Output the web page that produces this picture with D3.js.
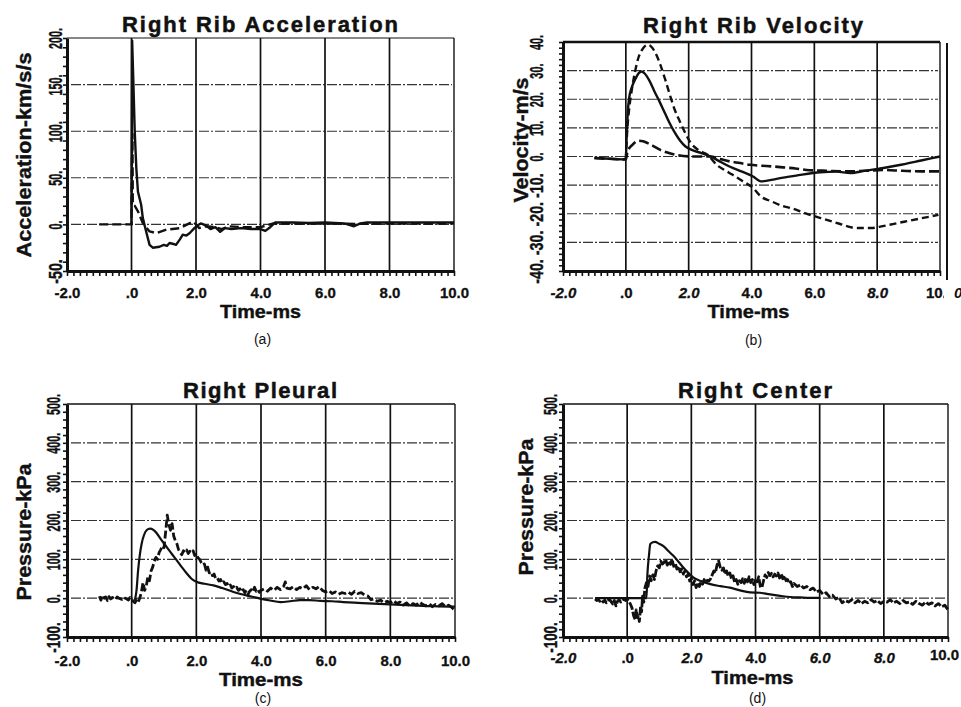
<!DOCTYPE html>
<html><head><meta charset="utf-8">
<script src="https://cdn.jsdelivr.net/npm/d3@7"></script>
<style>
body{margin:0;background:#fff;}
svg text{font-family:"Liberation Sans", Arial, sans-serif;}
</style></head><body>
<svg id="chart" width="961" height="707"></svg>
<script>
// ---------------- data ----------------
const xTickValues = [-2, 0, 2, 4, 6, 8, 10];
const xTickLabels = ["-2.0", ".0", "2.0", "4.0", "6.0", "8.0", "10.0"];
const accTicks = [-50, 0, 50, 100, 150, 200];
const accTickLabels = ["-50.", "0.", "50.", "100.", "150.", "200."];
const velTicks = [-40, -30, -20, -10, 0, 10, 20, 30, 40];
const velTickLabels = ["-40.", "-30.", "-20.", "-10.", "0.", "10.", "20.", "30.", "40."];
const presTicks = [-100, 0, 100, 200, 300, 400, 500];
const presTickLabels = ["-100.", "0.", "100.", "200.", "300.", "400.", "500."];

const titles = ["Right Rib Acceleration", "Right Rib Velocity", "Right Pleural", "Right Center"];
const yTitles = ["Acceleration-km/s/s", "Velocity-m/s", "Pressure-kPa", "Pressure-kPa"];
const captions = ["(a)", "(b)", "(c)", "(d)"];
const xTitle = "Time-ms";

// (a) acceleration [time ms, km/s/s]
const accSolid = [[0,0],[0.02,197],[0.06,150],[0.1,100],[0.15,60],[0.2,35],[0.3,21],[0.35,7],[0.45,-7],[0.56,-22],[0.66,-25],[0.87,-24],[1.0,-22],[1.1,-23],[1.18,-20],[1.3,-21],[1.38,-22],[1.5,-16],[1.59,-11],[1.7,-12],[1.8,-9.5],[1.95,-4],[2.05,-1],[2.15,1],[2.3,-1],[2.45,-5],[2.6,-3],[2.75,-8],[2.9,-4],[3.1,-5],[3.4,-4],[3.7,-5],[4.0,-5],[4.15,-7],[4.3,-3],[4.45,2],[5.0,2],[5.5,1.5],[6.0,2],[6.6,1],[6.9,-2],[7.1,1],[7.3,2],[8,2],[9,2],[10,2]];
const accDashed = [[-1,0],[0,0],[0.01,60],[0.03,97],[0.04,21],[0.1,20],[0.2,14],[0.35,1.4],[0.56,-7.5],[0.77,-9.3],[1.08,-5.7],[1.5,-4],[1.9,3],[2.0,0],[2.1,-4],[2.3,-2],[2.6,-3],[2.8,-5],[3.0,-2],[3.5,-3],[4.0,-3],[4.4,1],[5,1],[6,1],[7,0.5],[8,1],[9,1],[10,1]];

// (b) velocity [time ms, m/s]
const velSolid = [[-1,-0.5],[-0.5,-0.8],[0,-1],[0.02,5],[0.06,15],[0.1,20],[0.2,24.5],[0.3,27],[0.4,29],[0.5,29.7],[0.6,29],[0.75,26.5],[0.9,23],[1.08,19],[1.25,15],[1.4,11.5],[1.55,8.5],[1.73,5.5],[1.9,3.5],[2.1,2.3],[2.4,1.2],[2.7,0],[3.0,-1.8],[3.3,-3.5],[3.7,-5.3],[4.05,-7],[4.3,-8.7],[4.8,-7.8],[5.5,-6.5],[6.2,-5.5],[6.7,-5.3],[7.15,-5.8],[7.6,-5],[8.2,-4],[8.8,-2.8],[9.4,-1.4],[10,0]];
const velDashHigh = [[0,-1],[0.05,10],[0.1,16],[0.2,24],[0.3,30],[0.4,34.5],[0.5,37],[0.6,38.5],[0.7,39],[0.8,38.5],[0.95,36],[1.1,32],[1.25,27],[1.4,21.6],[1.55,16.5],[1.73,12],[1.9,8],[2.05,5],[2.3,2.3],[2.6,0.6],[2.9,-3],[3.15,-4.8],[3.4,-6.4],[3.7,-8.5],[4.05,-11],[4.3,-14],[4.6,-15.5],[5.0,-17.3],[5.25,-18],[5.7,-19.8],[6.2,-21.5],[6.8,-23.5],[7.2,-24.8],[7.45,-25],[7.8,-25],[8.1,-24.5],[8.5,-23.6],[8.9,-22.7],[9.4,-21.6],[9.95,-20.4]];
const velDashLow = [[-1,-0.5],[0,-1],[0.04,1],[0.08,2.3],[0.2,4],[0.4,5.5],[0.55,5.3],[0.67,4.8],[0.85,3.8],[1.1,2.3],[1.35,1.3],[1.6,0.6],[2.15,0],[2.7,0],[3.0,-0.9],[3.3,-1.7],[3.64,-2.3],[3.95,-2.9],[4.3,-3.2],[4.7,-3.5],[5.0,-3.8],[5.4,-4.2],[5.75,-4.7],[6.4,-5.0],[7.1,-5.2],[7.6,-5.0],[8.2,-4.7],[8.8,-5.0],[9.4,-5.2],[10,-5.2]];

// (c) right pleural pressure [time ms, kPa]
const pleuralSolid = [[0.1,-5],[0.15,20],[0.2,72],[0.25,110],[0.31,141],[0.38,162],[0.46,175],[0.57,179],[0.67,176],[0.77,168],[0.9,152],[1.08,132],[1.25,113],[1.39,98],[1.55,80],[1.7,64],[1.85,50],[2.0,42],[2.25,37],[2.53,33],[2.8,26],[3.15,16],[3.4,10],[3.66,5],[3.97,-1],[4.28,-6],[4.6,-10],[4.9,-8],[5.2,-5],[5.5,-5],[5.83,-7],[6.2,-8],[6.55,-10],[7.0,-12],[7.48,-14],[8.0,-16],[8.5,-18],[9.0,-20],[9.5,-21],[10,-22]];
const pleuralDashed = [[-1.0,5],[-0.95,-5],[-0.9,8],[-0.85,0],[-0.8,3],[-0.75,-6],[-0.7,4],[-0.65,-2],[-0.6,2],[-0.5,-4],[-0.45,3],[-0.4,0],[-0.3,-3],[-0.25,2],[-0.2,0],[-0.1,-5],[-0.05,2],[0,-3],[0.05,-8],[0.1,-12],[0.15,-4],[0.2,-10],[0.25,0],[0.3,15],[0.35,40],[0.4,20],[0.45,30],[0.5,55],[0.55,45],[0.6,70],[0.65,80],[0.7,95],[0.75,105],[0.8,100],[0.85,118],[0.9,125],[0.95,135],[1.0,130],[1.05,170],[1.1,214],[1.15,190],[1.2,175],[1.25,192],[1.3,160],[1.35,148],[1.4,140],[1.45,125],[1.5,118],[1.55,112],[1.6,122],[1.65,118],[1.7,124],[1.75,115],[1.8,121],[1.85,117],[1.9,122],[1.95,110],[2.0,115],[2.05,104],[2.1,100],[2.15,92],[2.2,85],[2.25,88],[2.3,72],[2.35,80],[2.4,65],[2.45,68],[2.5,58],[2.55,62],[2.6,50],[2.65,52],[2.7,44],[2.75,48],[2.8,38],[2.85,42],[2.9,35],[2.95,38],[3.0,30],[3.05,34],[3.1,26],[3.15,30],[3.2,24],[3.25,28],[3.3,20],[3.35,24],[3.4,16],[3.45,22],[3.5,14],[3.55,20],[3.6,10],[3.65,18],[3.7,22],[3.75,16],[3.8,28],[3.85,18],[3.9,22],[3.95,15],[4.0,20],[4.1,24],[4.2,18],[4.3,26],[4.4,20],[4.5,28],[4.6,22],[4.7,30],[4.75,42],[4.8,26],[4.9,24],[5.0,30],[5.1,22],[5.2,28],[5.3,24],[5.4,32],[5.5,22],[5.6,28],[5.7,24],[5.8,30],[5.9,20],[6.0,16],[6.1,20],[6.2,12],[6.3,16],[6.4,10],[6.5,14],[6.6,12],[6.7,16],[6.8,10],[6.9,18],[7.0,12],[7.1,14],[7.2,8],[7.3,6],[7.4,-4],[7.5,-2],[7.6,-8],[7.7,-5],[7.8,-12],[7.9,-8],[8.0,-12],[8.1,-6],[8.2,-14],[8.3,-10],[8.4,-18],[8.5,-12],[8.6,-20],[8.7,-14],[8.8,-18],[8.9,-10],[9.0,-16],[9.1,-20],[9.2,-14],[9.3,-22],[9.4,-16],[9.5,-20],[9.6,-14],[9.7,-22],[9.8,-18],[9.9,-24],[10.0,-32]];

// (d) right center pressure [time ms, kPa]
const centerSolid = [[-1,0],[0.6,0],[0.63,60],[0.68,110],[0.72,139],[0.8,144],[0.87,145],[1.0,140],[1.13,134],[1.3,120],[1.44,109],[1.6,94],[1.75,79],[1.9,66],[2.07,53],[2.3,44],[2.59,36],[2.9,31],[3.2,27],[3.52,20],[3.83,15],[4.14,14],[4.35,11],[4.77,6],[5.1,3],[5.39,2],[5.7,1],[6.0,1]];
const centerDashed = [[-1.0,-2],[-0.95,-6],[-0.9,-3],[-0.85,-8],[-0.8,-4],[-0.75,-10],[-0.7,-5],[-0.65,-12],[-0.6,-6],[-0.55,-3],[-0.5,-9],[-0.45,-15],[-0.4,-6],[-0.35,-20],[-0.3,-8],[-0.25,-4],[-0.2,-10],[-0.15,-5],[-0.1,-2],[-0.05,-6],[0,-3],[0.05,-8],[0.1,-15],[0.15,-25],[0.2,-45],[0.25,-55],[0.28,-30],[0.32,-50],[0.35,-45],[0.38,-60],[0.42,-20],[0.45,-35],[0.48,5],[0.52,-10],[0.55,25],[0.6,40],[0.65,30],[0.7,57],[0.75,45],[0.8,60],[0.85,48],[0.9,70],[0.95,83],[1.0,78],[1.05,95],[1.1,88],[1.15,92],[1.2,100],[1.25,85],[1.3,95],[1.35,87],[1.4,100],[1.45,82],[1.5,90],[1.55,75],[1.6,82],[1.65,68],[1.7,75],[1.75,62],[1.8,70],[1.85,55],[1.9,62],[1.95,44],[2.0,52],[2.05,35],[2.1,45],[2.15,27],[2.2,40],[2.25,30],[2.3,42],[2.35,36],[2.4,48],[2.45,40],[2.5,46],[2.55,44],[2.6,50],[2.65,60],[2.7,70],[2.75,65],[2.8,85],[2.85,96],[2.9,80],[2.95,72],[3.0,78],[3.05,62],[3.1,70],[3.15,57],[3.2,65],[3.25,50],[3.3,58],[3.35,40],[3.4,48],[3.45,36],[3.5,45],[3.55,40],[3.6,50],[3.65,38],[3.7,52],[3.75,42],[3.8,55],[3.85,40],[3.9,48],[3.95,35],[4.0,50],[4.05,42],[4.1,55],[4.15,30],[4.2,27],[4.25,45],[4.3,60],[4.35,53],[4.4,66],[4.45,58],[4.5,64],[4.55,55],[4.6,62],[4.65,57],[4.7,65],[4.75,52],[4.8,62],[4.85,50],[4.9,58],[4.95,45],[5.0,48],[5.05,38],[5.1,42],[5.15,30],[5.2,38],[5.3,30],[5.4,34],[5.5,26],[5.6,30],[5.7,22],[5.8,26],[5.9,16],[6.0,20],[6.1,10],[6.2,14],[6.3,4],[6.4,8],[6.5,-2],[6.6,2],[6.7,-12],[6.8,-6],[6.9,-10],[7.0,-4],[7.1,-12],[7.2,-6],[7.3,-14],[7.4,-8],[7.5,-12],[7.6,-4],[7.7,-10],[7.8,-6],[7.9,-14],[8.0,-8],[8.1,-10],[8.2,-4],[8.3,-12],[8.4,-8],[8.5,-14],[8.6,-6],[8.7,-12],[8.8,-10],[8.9,-16],[9.0,-8],[9.1,-14],[9.2,-18],[9.3,-10],[9.4,-16],[9.5,-12],[9.6,-20],[9.7,-14],[9.8,-22],[9.9,-18],[10.0,-30]];

// ---------------- drawing ----------------
const svg = d3.select("#chart");
const FONT = '"Liberation Sans", Arial, sans-serif';
const INK = "#111";

const panels = [
  { box:{l:67,r:454,t:38,b:271}, ticks:accTicks, tickLabels:accTickLabels, minor:10,
    title:titles[0], titleX:260, titleY:32, titleLen:276,
    yTitle:yTitles[0], yTitleX:31, yTitleY:155, yTitleLen:205, yLabDist:5,
    xLabY:298, xTitleY:318, xTitleLen:81, capY:344, topW:1.2, italic:[], clipLabels:false,
    series:[
      {data:accDashed, dash:"9,4", w:2.4, curve:d3.curveLinear},
      {data:accSolid, dash:null, w:2.4, curve:d3.curveLinear}
    ]},
  { box:{l:563,r:940,t:42,b:271}, ticks:velTicks, tickLabels:velTickLabels, minor:2,
    title:titles[1], titleX:753, titleY:33, titleLen:220,
    yTitle:yTitles[1], yTitleX:528, yTitleY:140, yTitleLen:125, yLabDist:20,
    xLabY:298, xTitleY:318, xTitleLen:82, capY:345, topW:2.5, italic:[0,2,5], clipLabels:true,
    series:[
      {data:velDashLow, dash:"10,4", w:2.6, curve:d3.curveMonotoneX},
      {data:velDashHigh, dash:"7,4", w:2.4, curve:d3.curveMonotoneX},
      {data:velSolid, dash:null, w:2.4, curve:d3.curveMonotoneX}
    ]},
  { box:{l:67,r:455,t:404,b:637}, ticks:presTicks, tickLabels:presTickLabels, minor:20,
    title:titles[2], titleX:260, titleY:398, titleLen:154,
    yTitle:yTitles[2], yTitleX:31, yTitleY:532, yTitleLen:137, yLabDist:7,
    xLabY:666, xTitleY:686, xTitleLen:84, capY:703, topW:1.5, italic:[], clipLabels:false,
    series:[
      {data:pleuralSolid, dash:null, w:2.2, curve:d3.curveMonotoneX},
      {data:pleuralDashed, dash:"8,3", w:2.8, curve:d3.curveLinear}
    ]},
  { box:{l:563,r:948,t:404,b:637}, ticks:presTicks, tickLabels:presTickLabels, minor:20,
    title:titles[3], titleX:755, titleY:398, titleLen:154,
    yTitle:yTitles[3], yTitleX:533, yTitleY:507, yTitleLen:137, yLabDist:6,
    xLabY:663, xTitleY:684, xTitleLen:82, capY:703, topW:1.5, italic:[0,2,4,5], clipLabels:false,
    series:[
      {data:centerSolid, dash:null, w:2.2, curve:d3.curveMonotoneX},
      {data:centerDashed, dash:"8,2", w:2.8, curve:d3.curveLinear}
    ]}
];

panels.forEach((p, pi) => {
  const {l, r, t, b} = p.box;
  const yMin = p.ticks[0], yMax = p.ticks[p.ticks.length - 1];
  const x = d3.scaleLinear().domain([-2, 10]).range([l, r]);
  const y = d3.scaleLinear().domain([yMin, yMax]).range([b, t]);
  const g = svg.append("g");

  // horizontal grid (dash-dot)
  g.selectAll(".hg").data(p.ticks.filter(v => v > yMin && v < yMax)).join("line")
    .attr("x1", l + 4).attr("x2", r - 2).attr("y1", d => y(d)).attr("y2", d => y(d))
    .attr("stroke", "#333").attr("stroke-width", 1.1).attr("stroke-dasharray", "10,2,2,2");

  // vertical grid (solid)
  g.selectAll(".vg").data(xTickValues.filter(v => v > -2 && v < 10)).join("line")
    .attr("x1", d => x(d)).attr("x2", d => x(d)).attr("y1", t).attr("y2", b + 2)
    .attr("stroke", INK).attr("stroke-width", 1.7);

  // top and right frame
  g.append("line").attr("x1", l).attr("x2", r).attr("y1", t).attr("y2", t)
    .attr("stroke", INK).attr("stroke-width", p.topW);
  g.append("line").attr("x1", r).attr("x2", r).attr("y1", t).attr("y2", b)
    .attr("stroke", INK).attr("stroke-width", 1.4);

  // series
  p.series.forEach(s => {
    const line = d3.line().x(d => x(d[0])).y(d => y(d[1])).curve(s.curve);
    g.append("path").attr("d", line(s.data)).attr("fill", "none")
      .attr("stroke", INK).attr("stroke-width", s.w)
      .attr("stroke-linejoin", "round")
      .attr("stroke-dasharray", s.dash);
  });

  // left axis with minor ticks
  const minorY = d3.range(yMin, yMax + 1e-6, p.minor);
  const ax = g.append("g").attr("transform", `translate(${l},0)`)
    .call(d3.axisLeft(y).tickValues(minorY).tickSize(4).tickSizeOuter(0).tickFormat(""));
  ax.select(".domain").attr("stroke", INK).attr("stroke-width", 3);
  ax.selectAll(".tick line").attr("stroke", INK).attr("stroke-width", 1.6);

  // bottom axis with minor ticks
  const minorX = d3.range(-2, 10.0001, 0.2);
  const bx = g.append("g").attr("transform", `translate(0,${b})`)
    .call(d3.axisBottom(x).tickValues(minorX).tickSize(5).tickSizeOuter(0).tickFormat(""));
  bx.select(".domain").attr("stroke", INK).attr("stroke-width", 3);
  bx.selectAll(".tick line").attr("stroke", INK).attr("stroke-width", 1.6);

  // x tick labels
  let clipId = null;
  if (p.clipLabels) {
    clipId = "clipx" + pi;
    svg.append("clipPath").attr("id", clipId).append("rect")
      .attr("x", 0).attr("y", 0).attr("width", 944).attr("height", 707);
  }
  const xl = g.append("g").attr("transform", `translate(0,${b})`)
    .call(d3.axisBottom(x).tickValues(xTickValues).tickSize(0)
      .tickFormat((d, i) => xTickLabels[i]));
  if (clipId) xl.attr("clip-path", `url(#${clipId})`);
  xl.select(".domain").remove();
  xl.selectAll(".tick text")
    .attr("y", p.xLabY - b).attr("dy", 0)
    .attr("font-family", FONT).attr("font-size", 15)
    .attr("fill", INK).attr("stroke", INK).attr("stroke-width", 0.3).attr("font-weight", "bold")
    .attr("font-style", (d, i) => p.italic.includes(i) ? "italic" : "normal");
  if (pi === 3) {
    xl.selectAll(".tick text").filter(d => d === 10).attr("y", p.xLabY - b - 3).attr("dx", -4);
  }

  // y tick labels (rotated, reading upward)
  const yl = g.append("g").attr("transform", `translate(${l},0)`)
    .call(d3.axisLeft(y).tickValues(p.ticks).tickSize(0)
      .tickFormat((d, i) => p.tickLabels[i]));
  yl.select(".domain").remove();
  yl.selectAll(".tick text")
    .attr("font-family", FONT).attr("font-size", 18)
    .attr("transform", "rotate(-90)")
    .attr("x", 0).attr("y", -p.yLabDist).attr("dy", 0)
    .attr("text-anchor", "middle").attr("font-weight", "bold")
    .attr("fill", INK).attr("stroke", INK).attr("stroke-width", 0.4)
    .each(function(d, i) {
      const n = this.getComputedTextLength();
      const lab = p.tickLabels[i];
      const len = n * 0.6 + (lab.startsWith("-") ? 6 : 0);
      d3.select(this).attr("textLength", len).attr("lengthAdjust", "spacingAndGlyphs");
    });

  // title
  svg.append("text").attr("x", p.titleX).attr("y", p.titleY)
    .attr("text-anchor", "middle").attr("font-weight", "bold").attr("font-size", 22)
    .attr("textLength", p.titleLen).attr("lengthAdjust", "spacing")
    .attr("fill", INK).attr("stroke", INK).attr("stroke-width", 0.5).text(p.title);

  // y title
  svg.append("text").attr("transform", `translate(${p.yTitleX},${p.yTitleY}) rotate(-90)`)
    .attr("text-anchor", "middle").attr("font-weight", "bold").attr("font-size", 21)
    .attr("textLength", p.yTitleLen).attr("lengthAdjust", "spacingAndGlyphs")
    .attr("fill", INK).attr("stroke", INK).attr("stroke-width", 0.4).text(p.yTitle);

  // x title
  svg.append("text").attr("x", (l + r) / 2 + (pi % 2 === 1 ? -3 : 0)).attr("y", p.xTitleY)
    .attr("text-anchor", "middle").attr("font-weight", "bold").attr("font-size", 18)
    .attr("textLength", p.xTitleLen).attr("lengthAdjust", "spacingAndGlyphs")
    .attr("fill", INK).attr("stroke", INK).attr("stroke-width", 0.4).text(xTitle);

  // caption
  svg.append("text").attr("x", (l + r) / 2 + 2).attr("y", p.capY)
    .attr("text-anchor", "middle").attr("font-size", 14)
    .attr("fill", INK).text(captions[pi]);

  // extra marks at the right edge of panel (b)
  if (pi === 1) {
    svg.append("line").attr("x1", 947).attr("x2", 947).attr("y1", 43).attr("y2", 280)
      .attr("stroke", INK).attr("stroke-width", 2);
    svg.append("text").attr("x", 954).attr("y", 298).attr("font-size", 15)
      .attr("font-style", "italic").attr("font-weight", "bold").attr("fill", INK).text("0");
  }
});
</script>
</body></html>
